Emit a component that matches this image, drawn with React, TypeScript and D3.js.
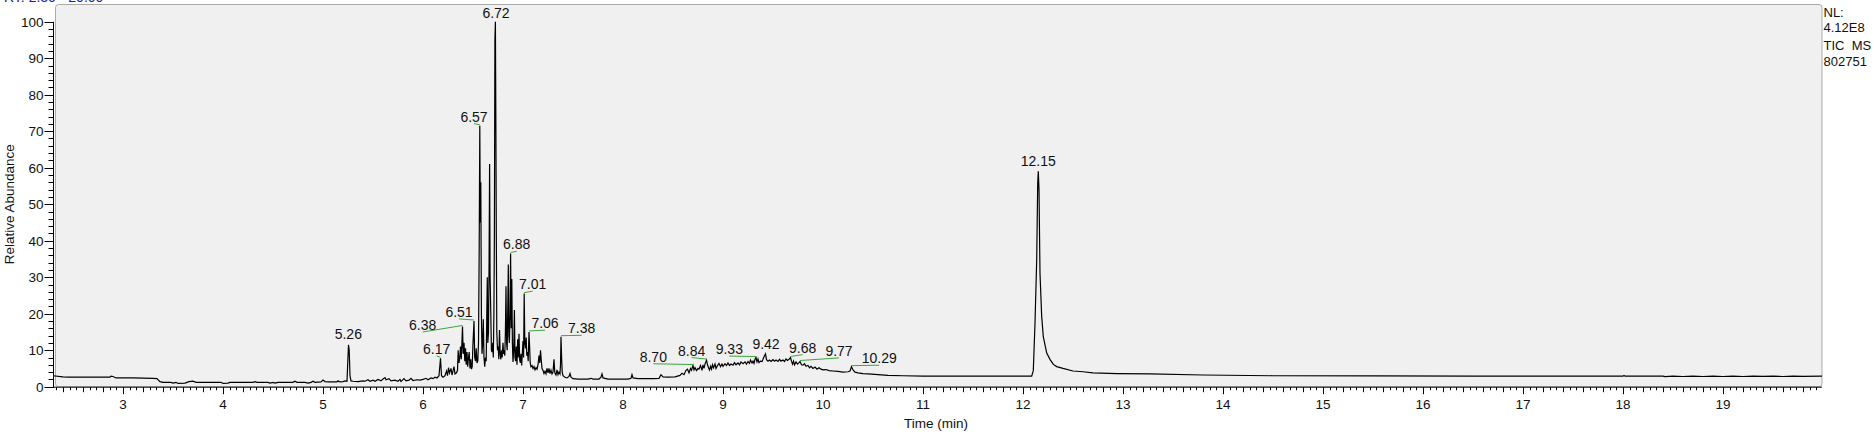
import React from "react";
import * as d3 from "d3";

// ---------- DATA ----------
const traceTime: number[] = [
  2.30, 2.40, 2.45, 2.60, 2.80, 2.87, 2.88, 2.90, 2.93, 3.10, 3.30, 3.34, 3.37, 3.40, 3.48, 3.50, 3.53, 3.55, 3.62, 3.66,
  3.70, 3.73, 3.85, 3.98, 4.00, 4.05, 4.07, 4.30, 4.32, 4.34, 4.45, 4.47, 4.50, 4.52, 4.55, 4.70, 4.72, 4.74, 4.82, 4.85,
  4.88, 4.90, 4.92, 4.98, 5.00, 5.02, 5.06, 5.14, 5.15, 5.17, 5.20, 5.22, 5.24, 5.245, 5.255, 5.262, 5.27, 5.28, 5.30, 5.35,
  5.40, 5.42, 5.45, 5.47, 5.50, 5.52, 5.55, 5.58, 5.60, 5.62, 5.63, 5.66, 5.68, 5.72, 5.75, 5.77, 5.78, 5.81, 5.83, 5.86,
  5.88, 5.90, 5.94, 5.97, 6.00, 6.03, 6.05, 6.08, 6.10, 6.12, 6.14, 6.16, 6.175, 6.185, 6.20, 6.22, 6.235, 6.245, 6.255, 6.265,
  6.28, 6.29, 6.31, 6.32, 6.335, 6.345, 6.352, 6.36, 6.368, 6.375, 6.383, 6.395, 6.402, 6.41, 6.418, 6.425, 6.432, 6.44, 6.447, 6.455,
  6.462, 6.47, 6.478, 6.485, 6.492, 6.50, 6.51, 6.517, 6.525, 6.532, 6.54, 6.548, 6.555, 6.562, 6.568, 6.573, 6.578, 6.584, 6.59, 6.597,
  6.603, 6.61, 6.617, 6.625, 6.632, 6.638, 6.643, 6.648, 6.655, 6.661, 6.666, 6.671, 6.678, 6.684, 6.69, 6.697, 6.703, 6.709, 6.714, 6.719,
  6.724, 6.729, 6.733, 6.738, 6.745, 6.752, 6.758, 6.765, 6.772, 6.778, 6.785, 6.792, 6.80, 6.806, 6.812, 6.818, 6.824, 6.83, 6.836, 6.842,
  6.848, 6.853, 6.858, 6.864, 6.87, 6.876, 6.882, 6.888, 6.894, 6.90, 6.907, 6.914, 6.92, 6.926, 6.933, 6.94, 6.947, 6.953, 6.96, 6.967,
  6.974, 6.98, 6.987, 6.994, 7.00, 7.006, 7.012, 7.018, 7.025, 7.032, 7.038, 7.045, 7.052, 7.06, 7.066, 7.072, 7.08, 7.09, 7.10, 7.11,
  7.12, 7.13, 7.14, 7.15, 7.16, 7.168, 7.175, 7.182, 7.19, 7.20, 7.21, 7.22, 7.23, 7.24, 7.25, 7.26, 7.27, 7.28, 7.29, 7.30,
  7.31, 7.318, 7.33, 7.34, 7.35, 7.36, 7.37, 7.375, 7.38, 7.386, 7.392, 7.40, 7.42, 7.44, 7.46, 7.47, 7.48, 7.50, 7.55, 7.65,
  7.68, 7.70, 7.76, 7.78, 7.79, 7.80, 7.85, 7.95, 8.05, 8.08, 8.09, 8.10, 8.15, 8.30, 8.36, 8.38, 8.40, 8.45, 8.52, 8.57,
  8.59, 8.61, 8.63, 8.645, 8.66, 8.675, 8.685, 8.70, 8.71, 8.72, 8.735, 8.75, 8.76, 8.775, 8.79, 8.80, 8.81, 8.82, 8.835, 8.845,
  8.855, 8.865, 8.875, 8.885, 8.895, 8.905, 8.92, 8.93, 8.945, 8.96, 8.975, 8.99, 9.00, 9.02, 9.035, 9.05, 9.065, 9.08, 9.10, 9.115,
  9.13, 9.15, 9.165, 9.18, 9.20, 9.22, 9.235, 9.25, 9.265, 9.275, 9.29, 9.30, 9.31, 9.32, 9.33, 9.34, 9.35, 9.36, 9.375, 9.39,
  9.40, 9.415, 9.425, 9.435, 9.45, 9.465, 9.48, 9.50, 9.515, 9.53, 9.55, 9.565, 9.58, 9.60, 9.615, 9.63, 9.645, 9.66, 9.675, 9.685,
  9.695, 9.705, 9.715, 9.73, 9.745, 9.76, 9.77, 9.785, 9.80, 9.815, 9.83, 9.85, 9.865, 9.88, 9.90, 9.92, 9.94, 9.96, 9.98, 10.00,
  10.03, 10.06, 10.10, 10.15, 10.20, 10.25, 10.27, 10.285, 10.30, 10.32, 10.35, 10.40, 10.45, 10.55, 10.65, 10.80, 11.00, 11.30, 11.60, 11.90,
  12.087, 12.103, 12.12, 12.137, 12.147, 12.153, 12.16, 12.17, 12.187, 12.203, 12.237, 12.27, 12.303, 12.337, 12.40, 12.50, 12.60, 12.70, 12.94, 13.27,
  13.80, 14.50, 15.50, 16.50, 17.50, 18.00, 18.01, 18.02, 18.40, 18.42, 18.50, 18.60, 18.70, 18.80, 18.90, 19.00, 19.10, 19.20, 19.30, 19.40,
  19.50, 19.60, 19.70, 19.80, 19.99,
];

const traceAbundance: number[] = [
  3.0, 2.7, 2.6, 2.6, 2.6, 2.6, 2.9, 2.8, 2.4, 2.4, 2.3, 2.2, 1.4, 1.2, 1.2, 1.0, 1.2, 0.9, 1.0, 1.4,
  1.5, 1.2, 1.2, 1.2, 0.9, 1.0, 1.2, 1.2, 1.4, 1.2, 1.2, 1.0, 1.2, 1.0, 1.2, 1.2, 1.5, 1.2, 1.2, 1.0,
  1.2, 1.5, 1.2, 1.3, 1.8, 1.4, 1.3, 1.3, 1.6, 1.3, 1.4, 1.6, 1.5, 5.0, 11.5, 10.0, 3.0, 1.6, 1.5, 1.4,
  1.6, 1.5, 1.9, 1.5, 1.8, 1.5, 2.0, 1.6, 2.1, 2.5, 1.9, 2.2, 1.6, 1.8, 1.5, 2.0, 1.4, 2.2, 1.6, 1.8,
  2.3, 1.7, 1.9, 1.8, 2.0, 2.3, 1.9, 2.4, 2.2, 2.6, 2.4, 3.0, 7.8, 3.0, 2.6, 3.0, 4.3, 3.0, 5.2, 3.8,
  5.0, 3.2, 5.5, 3.5, 3.8, 4.5, 10.0, 6.5, 8.0, 11.0, 7.5, 16.5, 9.0, 12.0, 7.0, 10.5, 6.0, 9.5, 5.5, 8.0,
  9.5, 5.0, 7.5, 4.8, 5.5, 12.0, 18.0, 8.0, 7.0, 10.5, 6.5, 7.0, 12.0, 38.0, 71.5, 45.0, 56.0, 20.0, 9.0, 12.0,
  18.5, 8.0, 5.5, 8.0, 7.0, 20.0, 30.0, 12.0, 15.0, 35.0, 61.0, 30.0, 20.0, 10.0, 9.5, 12.0, 8.0, 20.0, 42.0, 95.0,
  100.0, 70.0, 42.0, 15.0, 10.0, 11.0, 7.5, 15.5, 9.0, 7.5, 10.0, 8.0, 12.0, 9.0, 10.0, 8.5, 15.0, 27.5, 12.0, 10.0,
  22.0, 33.5, 14.0, 12.0, 20.0, 36.5, 16.0, 29.5, 12.0, 6.8, 10.0, 21.0, 8.0, 7.0, 11.0, 6.0, 13.0, 8.0, 14.5, 7.3,
  6.5, 9.0, 5.8, 9.5, 12.5, 8.0, 25.5, 12.0, 10.5, 13.5, 8.5, 9.5, 7.0, 15.0, 11.0, 6.5, 5.5, 5.8, 5.0, 5.5,
  4.6, 5.2, 4.8, 6.0, 8.5, 6.5, 10.0, 7.5, 5.0, 4.5, 3.6, 4.2, 3.5, 5.0, 3.8, 5.0, 3.6, 4.5, 3.5, 4.0,
  7.5, 3.8, 3.2, 4.6, 3.3, 4.0, 3.5, 6.0, 13.7, 8.0, 4.0, 3.0, 2.6, 2.4, 2.8, 3.6, 2.6, 2.2, 2.1, 2.1,
  2.3, 2.1, 2.1, 2.6, 3.5, 2.4, 2.1, 2.1, 2.1, 2.3, 3.3, 2.4, 2.2, 2.2, 2.3, 3.3, 2.7, 2.6, 2.7, 3.1,
  3.7, 3.3, 4.5, 4.8, 3.8, 5.0, 4.5, 5.8, 4.6, 5.2, 4.4, 5.0, 4.8, 5.8, 4.5, 6.0, 5.0, 6.2, 7.3, 6.0,
  5.2, 4.6, 5.6, 4.8, 6.0, 5.2, 6.2, 5.0, 5.8, 6.4, 5.5, 6.2, 5.6, 6.3, 5.8, 6.5, 5.8, 6.2, 5.9, 6.6,
  6.0, 6.5, 6.0, 6.8, 6.3, 6.8, 6.2, 6.9, 6.4, 7.3, 6.5, 7.0, 6.4, 7.5, 8.0, 6.8, 7.6, 6.6, 7.0, 6.9,
  7.5, 8.5, 9.0, 7.4, 7.0, 7.3, 6.9, 7.4, 7.0, 7.3, 6.9, 7.5, 7.0, 7.3, 6.9, 7.6, 7.2, 7.5, 8.0, 7.0,
  6.2, 7.0, 6.0, 6.8, 6.2, 6.6, 6.9, 6.0, 5.9, 6.3, 5.6, 5.8, 5.2, 5.6, 5.0, 5.4, 4.8, 5.2, 4.8, 4.6,
  4.7, 4.4, 4.3, 4.2, 4.0, 4.1, 4.3, 5.5, 4.6, 4.0, 3.8, 3.6, 3.5, 3.3, 3.1, 3.0, 2.9, 2.9, 2.9, 2.9,
  2.9, 4.4, 17.4, 34.7, 55.7, 59.0, 54.0, 31.0, 19.2, 13.7, 9.2, 7.5, 6.1, 5.5, 5.0, 4.3, 4.1, 3.8, 3.6, 3.5,
  3.2, 3.0, 2.95, 2.9, 2.9, 2.9, 3.1, 2.9, 2.9, 2.75, 2.9, 2.8, 2.9, 2.8, 2.9, 2.8, 2.9, 2.8, 2.9, 2.85,
  2.9, 2.8, 2.9, 2.85, 2.9,
];

const peakLabelText: string[] = [
  "5.26", "6.17", "6.38", "6.51", "6.57", "6.72", "6.88", "7.01", "7.06",
  "7.38", "8.70", "8.84", "9.33", "9.42", "9.68", "9.77", "10.29", "12.15",
];
const peakApexTime: number[] = [
  5.255, 6.175, 6.395, 6.51, 6.568, 6.724, 6.876, 7.012, 7.06,
  7.38, 8.70, 8.835, 9.33, 9.425, 9.675, 9.77, 10.285, 12.153,
];
const peakApexAbundance: number[] = [
  11.5, 7.8, 16.5, 18.0, 71.5, 100, 36.5, 25.5, 15.0,
  13.7, 5.8, 7.3, 8.0, 9.0, 8.0, 6.9, 5.5, 59.0,
];
const labelAnchorTime: number[] = [
  5.253, 6.137, 5.997, 6.36, 6.51, 6.73, 6.937, 7.097, 7.22,
  7.587, 8.303, 8.687, 9.063, 9.43, 9.797, 10.16, 10.563, 12.153,
];
const labelAnchorAbundance: number[] = [
  14.4, 10.3, 16.9, 20.5, 74.0, 102.5, 39.0, 28.1, 17.4,
  16.0, 8.2, 9.9, 10.3, 11.6, 10.7, 9.8, 7.8, 61.8,
];
const peakHasLeader: boolean[] = [
  false, true, true, true, true, false, true, true, true,
  true, true, true, true, false, true, true, true, false,
];

const xTickLabels: number[] = [3, 4, 5, 6, 7, 8, 9, 10, 11, 12, 13, 14, 15, 16, 17, 18, 19];
const yTickLabels: number[] = [0, 10, 20, 30, 40, 50, 60, 70, 80, 90, 100];
const timeRange: number[] = [2.30, 19.99];
const infoLines: string[] = ["NL:", "4.12E8", "TIC  MS", "802751"];
const headerText = "RT: 2.30 - 20.00";
const xAxisTitle = "Time (min)";
const yAxisTitle = "Relative Abundance";

// ---------- LAYOUT ----------
const W = 1874;
const H = 432;
const AXIS_LEFT = 53;
const AXIS_RIGHT = 1822;
const Y_ZERO = 386.7;
const Y_HUNDRED = 21.7;
const FONT = "'Liberation Sans', Arial, Helvetica, sans-serif";
const GREEN = "#3aa83a";

export default function App() {
  const x = d3.scaleLinear().domain(timeRange).range([AXIS_LEFT, AXIS_RIGHT]);
  const y = d3.scaleLinear().domain([0, 100]).range([Y_ZERO, Y_HUNDRED]);

  const pts: [number, number][] = traceTime.map((t, i) => [t, traceAbundance[i]]);
  const line = d3
    .line<[number, number]>()
    .x((d) => x(d[0]))
    .y((d) => y(d[1]));
  const path = line(pts) || "";

  // x ticks: minor every 1/15 min, medium every 0.2, major every 1
  const xMinor: { v: number; len: number }[] = [];
  const k0 = Math.ceil(timeRange[0] * 15 - 1e-9);
  const k1 = Math.floor(timeRange[1] * 15 + 1e-9);
  for (let k = k0; k <= k1; k++) {
    const len = k % 15 === 0 ? 7 : k % 3 === 0 ? 5 : 3;
    xMinor.push({ v: k / 15, len });
  }
  const yMinor = d3.range(0, 101, 2);

  const axisY = y(0) + 0.5;

  return (
    <svg
      width={W}
      height={H}
      style={{ position: "absolute", left: 0, top: 0, background: "#fff" }}
      fontFamily={FONT}
    >
      {/* header (clipped at top) */}
      <text x={4} y={1.8} fontSize={14} fill="#1c1ca8">
        <tspan fill="#202060">RT: </tspan>
        {headerText.replace("RT: ", "")}
      </text>

      {/* plot panel */}
      <rect
        x={55.5}
        y={4.5}
        width={AXIS_RIGHT - 55.5}
        height={Y_ZERO - 4.5}
        rx={3}
        ry={3}
        fill="#f0f0f0"
        stroke="#ababab"
        strokeWidth={1}
      />

      {/* trace */}
      <path d={path} fill="none" stroke="#000" strokeWidth={1.2} strokeLinejoin="miter" />

      {/* leader lines */}
      {peakLabelText.map((lab, i) =>
        peakHasLeader[i] ? (
          <line
            key={"ld" + lab}
            x1={x(labelAnchorTime[i])}
            y1={y(labelAnchorAbundance[i]) + 7}
            x2={x(peakApexTime[i])}
            y2={y(peakApexAbundance[i]) - 1}
            stroke={GREEN}
            strokeWidth={1}
          />
        ) : null
      )}

      {/* peak labels */}
      {peakLabelText.map((lab, i) => (
        <text
          key={"pl" + lab}
          x={x(labelAnchorTime[i])}
          y={y(labelAnchorAbundance[i]) + 5}
          fontSize={14}
          textAnchor="middle"
          fill="#111"
        >
          {lab}
        </text>
      ))}

      {/* y axis */}
      <line x1={AXIS_LEFT + 0.5} x2={AXIS_LEFT + 0.5} y1={y(100)} y2={axisY} stroke="#000" strokeWidth={1} />
      {yMinor.map((v) => {
        const major = v % 10 === 0;
        const yy = Math.round(y(v)) + 0.5;
        return (
          <line
            key={"yt" + v}
            x1={AXIS_LEFT + 0.5 - (major ? 9 : 5)}
            x2={AXIS_LEFT + 0.5}
            y1={yy}
            y2={yy}
            stroke="#000"
            strokeWidth={1}
          />
        );
      })}
      {yTickLabels.map((v) => (
        <text key={"yl" + v} x={43.5} y={y(v) + 5} fontSize={13.5} textAnchor="end" fill="#111">
          {v}
        </text>
      ))}
      <text
        transform={`translate(13.5, ${(y(0) + y(100)) / 2}) rotate(-90)`}
        fontSize={13.5}
        textAnchor="middle"
        fill="#111"
      >
        {yAxisTitle}
      </text>

      {/* x axis */}
      <line x1={AXIS_LEFT} x2={AXIS_RIGHT} y1={axisY} y2={axisY} stroke="#000" strokeWidth={1} />
      {xMinor.map((tk, i) => {
        const xx = Math.round(x(tk.v)) + 0.5;
        return (
          <line key={"xt" + i} x1={xx} x2={xx} y1={axisY} y2={axisY + tk.len} stroke="#000" strokeWidth={1} />
        );
      })}
      {xTickLabels.map((v) => (
        <text key={"xl" + v} x={x(v)} y={409} fontSize={13.5} textAnchor="middle" fill="#111">
          {v}
        </text>
      ))}
      <text x={936} y={428} fontSize={13.5} textAnchor="middle" fill="#111">
        {xAxisTitle}
      </text>

      {/* info block */}
      {infoLines.map((s, i) => (
        <text
          key={"in" + i}
          x={AXIS_RIGHT + 1.5}
          y={[17, 32, 50, 66][i]}
          fontSize={13}
          fill="#111"
          style={{ whiteSpace: "pre" }}
        >
          {s}
        </text>
      ))}
    </svg>
  );
}
